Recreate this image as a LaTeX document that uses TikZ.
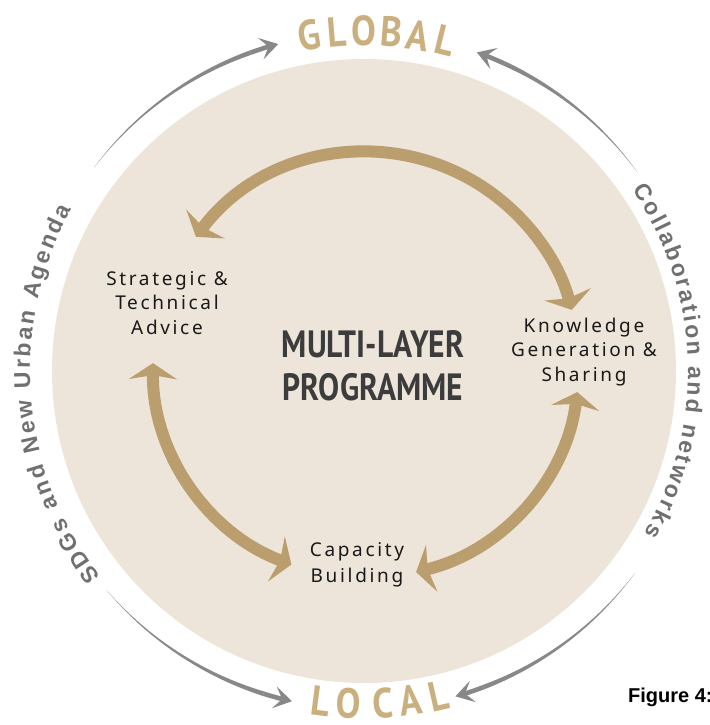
\documentclass[tikz,border=0pt]{standalone}
\usepackage{fontspec}
\usetikzlibrary{arrows.meta,decorations.text}
\setmainfont{Noto Sans}
\newfontfamily\lblfont[LetterSpace=14]{Noto Sans}
\newfontfamily\titlefont[FakeStretch=0.83]{PT Sans}
\newfontfamily\ringfont[FakeStretch=0.88]{PT Sans}
\newfontfamily\sidefont{Liberation Sans}
\newfontfamily\figfont{Liberation Sans}
\definecolor{beigefill}{RGB}{237,229,217}
\definecolor{goldarrow}{RGB}{186,158,110}
\definecolor{goldtext}{RGB}{201,176,126}
\definecolor{arrowgray}{RGB}{136,136,136}
\definecolor{sidegray}{RGB}{112,112,112}
\definecolor{titlegray}{RGB}{60,60,60}
\definecolor{lblblack}{RGB}{25,25,25}

\newcommand\taperarc[4]{%
  \pgfmathsetmacro\tpA{#2}%
  \pgfmathsetmacro\tpB{#3}%
  \pgfmathsetmacro\tpM{#3-5*sign(#3-#2)}%
  \coordinate (#1s) at (\tpA:#4);
  \coordinate (#1m) at (\tpM:#4);
  \fill[arrowgray] plot[domain=0:1,samples=40] ({\tpA+(\tpM-\tpA)*\x}:{#4+2.3*\x}) -- plot[domain=0:1,samples=40] ({\tpM+(\tpA-\tpM)*\x}:{#4-2.3*(1-\x)}) -- cycle;
  \draw[arrowgray,line width=4.6pt,-{Stealth[length=18pt,width=22pt,inset=8pt]}] (#1m) arc[start angle=\tpM,end angle=\tpB,radius=#4 pt];
}

\begin{document}
\begin{tikzpicture}[x=1pt,y=1pt,
  goldarc/.style={draw=goldarrow,line width=12pt,arrows={Stealth[length=16pt,width=48pt,inset=4pt]-Stealth[length=16pt,width=48pt,inset=4pt]}},
  lbl/.style={font=\lblfont\fontsize{19}{24.5}\selectfont,text=lblblack,align=center,inner sep=0pt},
  titletxt/.style={font=\titlefont\bfseries\fontsize{38}{43}\selectfont,text=titlegray,align=center,inner sep=0pt},
  ringtxt/.style={font=\ringfont\bfseries\fontsize{42}{42}\selectfont,text=goldtext,inner sep=0pt}]
\useasboundingbox (-364,-354) rectangle (345,371);
\clip (-364,-354) rectangle (345,371);
\fill[beigefill] (0,0) circle[radius=312pt];

% outer gray arrows
\taperarc{ul}{143}{104.7}{338}
\taperarc{ur}{36}{70.5}{338}
\taperarc{ll}{220.4}{257.7}{338}
\taperarc{lr}{-36.6}{-74.3}{338}

% ring words
\foreach \ch/\ang [count=\i] in {G/99.2,L/94.6,O/90.0,B/85.4,A/80.8,L/76.2}
  \node[ringtxt,rotate=\ang-90] (glob\i) at (\ang:340) {\ch};
\foreach \ch/\ang [count=\i] in {L/262.6,O/267.3,C/273.2,A/278.1,L/282.9}
  \node[ringtxt,rotate=\ang+90] (loc\i) at (\ang:333) {\ch};

% side texts
\path[decorate,decoration={text along path,text align=fit to path,
  text={|\sidefont\bfseries\fontsize{23}{23}\selectfont\color{sidegray}|SDGs and New Urban Agenda}}]
  (218:334) arc[start angle=218,end angle=151,radius=334pt];
\path[decorate,decoration={text along path,text align=fit to path,
  text={|\sidefont\bfseries\fontsize{23}{23}\selectfont\color{sidegray}|Collaboration and networks}}]
  (34:324) arc[start angle=34,end angle=-30,radius=324pt];

% inner gold arrows
\begin{scope}[shift={(2,6)}]
  \coordinate (ta) at (143:213);
  \coordinate (la) at (179.5:213);
  \coordinate (ra) at (283.6:213);
  \draw[goldarc] (ta) arc[start angle=143,end angle=15,radius=213pt];
  \draw[goldarc] (la) arc[start angle=179.5,end angle=249.5,radius=213pt];
  \draw[goldarc] (ra) arc[start angle=283.6,end angle=352.7,radius=213pt];
\end{scope}

% labels
\node[lbl] (strat) at (-197,68) {Strategic \&\\Technical\\Advice};
\node[lbl] (know) at (220,19) {Knowledge\\Generation \&\\Sharing};
\node[lbl,font=\lblfont\fontsize{19}{26.5}\selectfont] (cap) at (-7,-194) {Capacity\\Building};
\node[titletxt] (prog) at (9,5) {MULTI-LAYER\\PROGRAMME};
\node[anchor=base west,inner sep=0pt,font=\figfont\bfseries\fontsize{20}{20}\selectfont] (fig) at (264,-331) {Figure 4:};
\end{tikzpicture}
\end{document}
